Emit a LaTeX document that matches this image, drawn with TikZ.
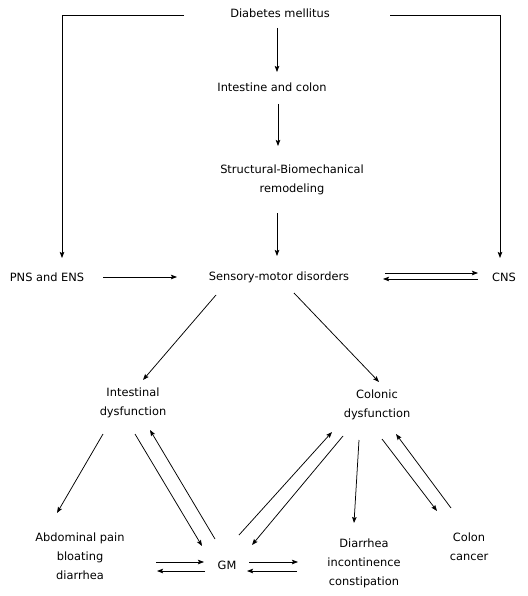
\documentclass[tikz,border=0pt]{standalone}
\usepackage{fontspec}
\setmainfont{DejaVu Sans}
\usetikzlibrary{calc,arrows.meta}
\tikzstyle{blk}=[inner sep=0pt, align=center, font=\fontsize{11.4}{19}\selectfont]
\tikzstyle{arr}=[-{Stealth[length=6pt,width=4.5pt,inset=1pt]}, line width=0.75pt]
\newcommand{\blk}{\node[blk]}

\begin{document}
\begin{tikzpicture}[x=1pt,y=-1pt]
\useasboundingbox (0,0) rectangle (527,596);
\blk (dm) at (280,13) {Diabetes mellitus};
\blk (ic) at (272,87) {Intestine and colon};
\blk (sbr) at (292,180) {Structural-Biomechanical\\remodeling};
\blk (pns) at (47,277) {PNS and ENS};
\blk (smd) at (279,277) {Sensory-motor disorders};
\blk (cns) at (504,277) {CNS};
\blk (intd) at (133,403) {Intestinal\\dysfunction};
\blk (cold) at (377,405) {Colonic\\dysfunction};
\blk (abd) at (80,556) {Abdominal pain\\bloating\\diarrhea};
\blk (gm) at (227,565) {GM};
\blk (dia) at (364,563) {Diarrhea\\incontinence\\constipation};
\blk (cc) at (469,547) {Colon\\cancer};
% top chain
\draw[arr] ($(dm)+(-3,15)$) -- ($(ic)+(5,-15)$);
\draw[arr] ($(ic)+(6,17)$) -- ($(sbr)+(-14,-34)$);
\draw[arr] ($(sbr)+(-15,33)$) -- ($(smd)+(-2,-21)$);
\draw[arr] ($(dm)+(-96,2)$) -| ($(pns)+(15,-19)$);
\draw[arr] ($(dm)+(110,2)$) -| ($(cns)+(-4,-19)$);
\draw[arr] ($(pns)+(56,0)$) -- ($(smd)+(-102,0)$);
\draw[arr] ($(smd)+(106,-4)$) -- ($(cns)+(-26,-4)$);
\draw[arr] ($(cns)+(-26,2)$) -- ($(smd)+(104,2)$);
% dysfunctions
\draw[arr] ($(smd)+(-63,18)$) -- ($(intd)+(10,-23)$);
\draw[arr] ($(smd)+(15,16)$) -- ($(cold)+(2,-23)$);
\draw[arr] ($(intd)+(-30,31)$) -- ($(abd)+(-23,-43)$);
\draw[arr] ($(intd)+(2,31)$) -- ($(gm)+(-25,-19)$);
\draw[arr] ($(gm)+(-12,-26)$) -- ($(intd)+(17,27)$);
\draw[arr] ($(gm)+(12,-30)$) -- ($(cold)+(-45,27)$);
\draw[arr] ($(cold)+(-34,31)$) -- ($(gm)+(25,-20)$);
\draw[arr] ($(cold)+(-18,35)$) -- ($(dia)+(-10,-40)$);
\draw[arr] ($(cold)+(5,34)$) -- ($(cc)+(-32,-36)$);
\draw[arr] ($(cc)+(-18,-39)$) -- ($(cold)+(19,29)$);
% GM
\draw[arr] ($(abd)+(76,6)$) -- ($(gm)+(-23,-3)$);
\draw[arr] ($(gm)+(-22,6)$) -- ($(abd)+(77,15)$);
\draw[arr] ($(gm)+(22,-3)$) -- ($(dia)+(-66,-1)$);
\draw[arr] ($(dia)+(-67,8)$) -- ($(gm)+(20,6)$);
\end{tikzpicture}
\end{document}
